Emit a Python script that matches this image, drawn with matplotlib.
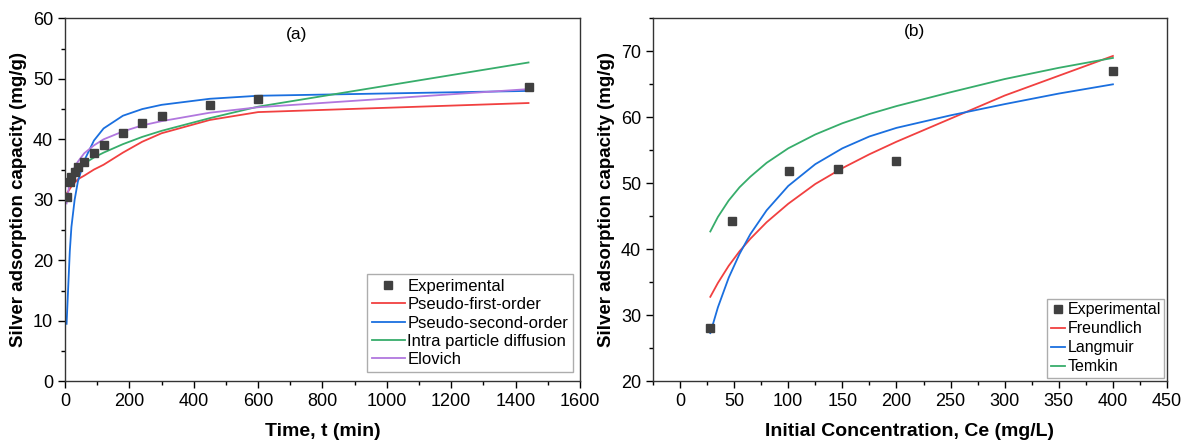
import matplotlib.pyplot as plt
from matplotlib.ticker import MultipleLocator

plt.rcParams['font.family'] = ['Liberation Sans', 'DejaVu Sans']

# (a) kinetics - experimental points and model values at the same times
t_min = [5, 15, 20, 30, 40, 60, 90, 120, 180, 240, 300, 450, 600, 1440]
q_exp_a = [30.5, 32.9, 33.8, 34.6, 35.5, 36.3, 37.8, 39.0, 41.1, 42.7, 43.8, 45.6, 46.6, 48.6]
q_pfo = [31.0, 31.8, 32.2, 32.8, 33.4, 34.0, 35.0, 35.8, 37.8, 39.6, 41.0, 43.2, 44.5, 46.0]
q_pso = [9.5, 21.5, 25.5, 30.0, 33.0, 36.5, 39.8, 41.8, 43.9, 45.0, 45.7, 46.7, 47.2, 48.0]
q_ipd = [32.8, 33.8, 34.2, 34.8, 35.3, 36.0, 37.0, 37.8, 39.2, 40.4, 41.4, 43.5, 45.4, 52.7]
q_elo = [29.4, 33.1, 34.0, 35.4, 36.3, 37.7, 39.0, 40.0, 41.3, 42.3, 43.0, 44.4, 45.3, 48.3]

# (b) isotherms
ce_exp = [28, 48, 101, 146, 200, 400]
q_exp_b = [28.1, 44.3, 51.9, 52.2, 53.4, 67.0]
ce_fit = [28, 35, 45, 55, 65, 80, 100, 125, 150, 175, 200, 250, 300, 350, 400]
q_freundlich = [32.8, 34.9, 37.5, 39.7, 41.6, 44.1, 46.9, 49.9, 52.3, 54.4, 56.3, 59.8, 63.3, 66.3, 69.3]
q_langmuir = [27.3, 31.2, 35.7, 39.3, 42.3, 45.9, 49.6, 52.9, 55.3, 57.1, 58.4, 60.3, 62.0, 63.6, 65.0]
q_temkin = [42.7, 44.9, 47.4, 49.4, 51.0, 53.1, 55.3, 57.4, 59.1, 60.5, 61.7, 63.8, 65.8, 67.5, 69.0]

c_exp = '#404040'
c_red = '#F14040'
c_blue = '#1A6FDF'
c_green = '#37AD6B'
c_purple = '#B177DE'

fig = plt.figure(figsize=(11.9, 4.47), dpi=100)
ax1 = fig.add_axes([0.0546, 0.147, 0.4328, 0.812])
ax2 = fig.add_axes([0.5487, 0.147, 0.4320, 0.812])

ax1.plot(t_min, q_exp_a, 's', color=c_exp, ms=5.5, label='Experimental', zorder=5)
ax1.plot(t_min, q_pfo, color=c_red, lw=1.3, label='Pseudo-first-order')
ax1.plot(t_min, q_pso, color=c_blue, lw=1.3, label='Pseudo-second-order')
ax1.plot(t_min, q_ipd, color=c_green, lw=1.3, label='Intra particle diffusion')
ax1.plot(t_min, q_elo, color=c_purple, lw=1.3, label='Elovich')
ax1.set_xlim(0, 1600)
ax1.set_ylim(0, 60)
ax1.xaxis.set_major_locator(MultipleLocator(200))
ax1.xaxis.set_minor_locator(MultipleLocator(100))
ax1.yaxis.set_major_locator(MultipleLocator(10))
ax1.yaxis.set_minor_locator(MultipleLocator(5))
ax1.set_xlabel('Time, t (min)', fontsize=14, fontweight='bold', labelpad=9)
ax1.set_ylabel('Silver adsorption capacity (mg/g)', fontsize=13.5, fontweight='bold')
ax1.text(720, 56.5, '(a)', fontsize=12.5, ha='center')
ax1.legend(loc='lower right', fontsize=12, frameon=True, fancybox=False,
           edgecolor='#999999', handlelength=2.0, handletextpad=0.15,
           labelspacing=0.2, borderpad=0.3, borderaxespad=0,
           bbox_to_anchor=(0.987, 0.025))

ax2.plot(ce_exp, q_exp_b, 's', color=c_exp, ms=5.5, label='Experimental', zorder=5)
ax2.plot(ce_fit, q_freundlich, color=c_red, lw=1.3, label='Freundlich')
ax2.plot(ce_fit, q_langmuir, color=c_blue, lw=1.3, label='Langmuir')
ax2.plot(ce_fit, q_temkin, color=c_green, lw=1.3, label='Temkin')
ax2.set_xlim(-25, 450)
ax2.set_ylim(20, 75)
ax2.xaxis.set_major_locator(MultipleLocator(50))
ax2.xaxis.set_minor_locator(MultipleLocator(25))
ax2.yaxis.set_major_locator(MultipleLocator(10))
ax2.yaxis.set_minor_locator(MultipleLocator(5))
ax2.set_xlabel('Initial Concentration, Ce (mg/L)', fontsize=14, fontweight='bold', labelpad=9)
ax2.set_ylabel('Silver adsorption capacity (mg/g)', fontsize=13.5, fontweight='bold')
ax2.text(217, 72.3, '(b)', fontsize=12.5, ha='center')
ax2.legend(loc='lower right', fontsize=11.5, frameon=True, fancybox=False,
           edgecolor='#999999', handlelength=0.9, handletextpad=0.15,
           labelspacing=0.25, borderpad=0.2, borderaxespad=0,
           bbox_to_anchor=(0.994, 0.01))

for ax in (ax1, ax2):
    ax.tick_params(which='major', direction='out', length=5, width=1, labelsize=13,
                   top=False, right=False)
    ax.tick_params(which='minor', direction='out', length=3, width=1, top=False, right=False)
    for s in ax.spines.values():
        s.set_linewidth(1.0)
        s.set_color('#333333')

fig.savefig('out.png', dpi=100)
